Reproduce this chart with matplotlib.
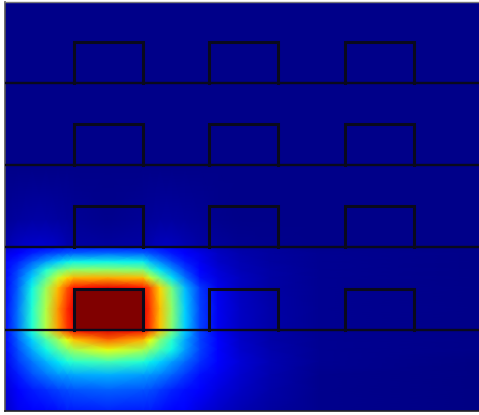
import numpy as np
import matplotlib
matplotlib.use("Agg")
import matplotlib.pyplot as plt
from matplotlib.patches import Rectangle

# ---- geometry of the structure (picture coordinates, px) ----
layer_lines_y = [83, 165, 247, 330]
rect_left = [74, 209, 345]
rect_w = 69
rect_h = 41
hot_rect = (74, 288)          # heated block (left, top)

x_nodes = [5, 18, 32, 46, 58, 67, 74, 108, 143, 150, 160, 172, 185, 200, 218, 240, 270, 320, 479]

y_low = [247, 254, 262, 270, 278, 288, 309, 330, 340, 350, 362, 375, 390, 411]
field_low = [
    [0.07, 0.09, 0.11, 0.13, 0.14, 0.15, 0.15, 0.15, 0.15, 0.15, 0.14, 0.12, 0.10, 0.07, 0.05, 0.035, 0.025, 0.015, 0.008],
    [0.09, 0.12, 0.16, 0.19, 0.21, 0.22, 0.23, 0.24, 0.23, 0.21, 0.18, 0.15, 0.12, 0.09, 0.06, 0.04, 0.028, 0.016, 0.008],
    [0.11, 0.16, 0.22, 0.28, 0.33, 0.36, 0.37, 0.37, 0.36, 0.31, 0.26, 0.20, 0.15, 0.10, 0.065, 0.045, 0.03, 0.016, 0.008],
    [0.12, 0.19, 0.28, 0.39, 0.47, 0.51, 0.53, 0.53, 0.51, 0.43, 0.35, 0.27, 0.19, 0.12, 0.075, 0.05, 0.032, 0.016, 0.008],
    [0.12, 0.21, 0.33, 0.46, 0.60, 0.68, 0.72, 0.73, 0.71, 0.60, 0.48, 0.35, 0.24, 0.14, 0.085, 0.055, 0.034, 0.016, 0.008],
    [0.12, 0.22, 0.37, 0.54, 0.71, 0.82, 0.89, 0.91, 0.89, 0.83, 0.68, 0.49, 0.31, 0.18, 0.095, 0.058, 0.035, 0.016, 0.008],
    [0.13, 0.24, 0.39, 0.57, 0.75, 0.86, 0.91, 0.93, 0.91, 0.85, 0.71, 0.52, 0.33, 0.19, 0.10, 0.06, 0.036, 0.016, 0.008],
    [0.13, 0.24, 0.39, 0.57, 0.74, 0.85, 0.90, 0.92, 0.90, 0.84, 0.70, 0.51, 0.33, 0.19, 0.10, 0.06, 0.036, 0.016, 0.008],
    [0.12, 0.22, 0.33, 0.44, 0.54, 0.63, 0.70, 0.80, 0.72, 0.64, 0.51, 0.40, 0.29, 0.19, 0.11, 0.065, 0.038, 0.016, 0.008],
    [0.11, 0.20, 0.29, 0.37, 0.45, 0.51, 0.55, 0.63, 0.56, 0.51, 0.44, 0.37, 0.28, 0.19, 0.12, 0.07, 0.04, 0.016, 0.008],
    [0.10, 0.18, 0.24, 0.30, 0.35, 0.38, 0.40, 0.43, 0.39, 0.36, 0.33, 0.28, 0.23, 0.17, 0.12, 0.075, 0.045, 0.016, 0.007],
    [0.09, 0.15, 0.20, 0.24, 0.27, 0.28, 0.29, 0.30, 0.28, 0.27, 0.25, 0.22, 0.18, 0.14, 0.10, 0.07, 0.042, 0.015, 0.006],
    [0.075, 0.12, 0.15, 0.17, 0.19, 0.20, 0.21, 0.22, 0.21, 0.20, 0.18, 0.16, 0.14, 0.11, 0.085, 0.06, 0.038, 0.013, 0.005],
    [0.065, 0.10, 0.12, 0.13, 0.14, 0.15, 0.15, 0.16, 0.15, 0.15, 0.14, 0.125, 0.11, 0.085, 0.065, 0.045, 0.03, 0.012, 0.005],
]

y_up = [2, 170, 220, 247]
field_up = [
    [0.008] * 19,
    [0.008] * 19,
    [0.02, 0.03, 0.035, 0.035, 0.03, 0.025, 0.02, 0.015, 0.02, 0.025, 0.03, 0.03, 0.025, 0.02, 0.015, 0.01, 0.008, 0.008, 0.008],
    [0.04, 0.06, 0.07, 0.07, 0.06, 0.045, 0.035, 0.03, 0.035, 0.045, 0.055, 0.055, 0.045, 0.035, 0.025, 0.018, 0.012, 0.008, 0.008],
]

W, H = 479, 415
fig = plt.figure(figsize=(W / 100, H / 100), dpi=100)
fig.patch.set_facecolor("white")
ax = fig.add_axes([5 / W, (H - 411) / H, 1 - 5 / W, (411 - 2) / H])
cmap = plt.get_cmap("jet")

ax.pcolormesh(x_nodes, y_up, np.array(field_up), shading="gouraud",
              cmap=cmap, vmin=0, vmax=1, rasterized=True)
ax.pcolormesh(x_nodes, y_low, np.array(field_low), shading="gouraud",
              cmap=cmap, vmin=0, vmax=1, rasterized=True)

line_col = "#0a0a1c"
# heated block
ax.add_patch(Rectangle(hot_rect, rect_w, 330 - hot_rect[1], facecolor=cmap(1.0),
                       edgecolor="none", zorder=3))
for yl in layer_lines_y:
    ax.plot([5, 479], [yl, yl], color=line_col, lw=1.7, zorder=4,
            solid_capstyle="butt")
    for xl in rect_left:
        top = yl - rect_h
        ax.plot([xl, xl, xl + rect_w, xl + rect_w], [yl, top, top, yl],
                color=line_col, lw=2.2, zorder=4, solid_joinstyle="miter")

ax.set_xlim(5, 479)
ax.set_ylim(411, 2)
ax.set_xticks([])
ax.set_yticks([])
ax.spines["right"].set_visible(False)
ax.spines["left"].set_color("#555555")
ax.spines["top"].set_color("#777777")
ax.spines["bottom"].set_color("#222222")
ax.spines["left"].set_linewidth(1.2)
ax.spines["top"].set_linewidth(1.0)
ax.spines["bottom"].set_linewidth(1.2)

fig.savefig("out.png", dpi=100)
